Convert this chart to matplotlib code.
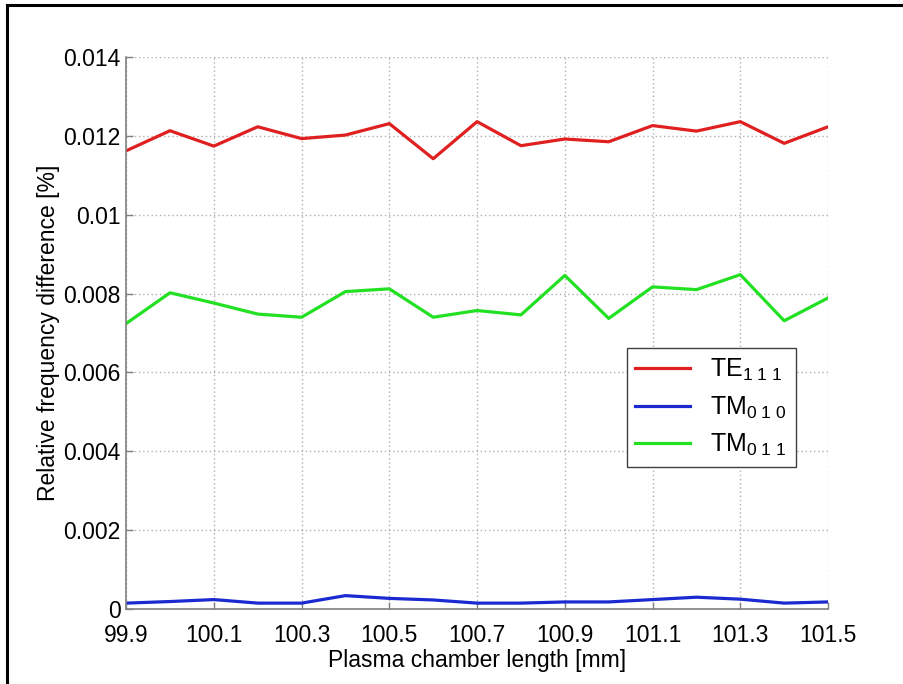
import matplotlib
matplotlib.use('Agg')
import matplotlib.pyplot as plt
from matplotlib.lines import Line2D

plt.rcParams['font.family'] = ['Liberation Sans', 'DejaVu Sans']
plt.rcParams['mathtext.fontset'] = 'custom'
plt.rcParams['mathtext.rm'] = 'Liberation Sans'
plt.rcParams['mathtext.it'] = 'Liberation Sans'

length = [99.9, 100.0, 100.1, 100.2, 100.3, 100.4, 100.5, 100.6, 100.7,
          100.8, 100.9, 101.0, 101.1, 101.2, 101.3, 101.4, 101.5]
te111 = [0.01162, 0.01213, 0.01174, 0.01223, 0.01193, 0.01202, 0.01231, 0.01142, 0.01236,
         0.01175, 0.01192, 0.01185, 0.01226, 0.01212, 0.01236, 0.01181, 0.01223]
tm010 = [0.00015, 0.00019, 0.00024, 0.00015, 0.00015, 0.00034, 0.00027, 0.00023, 0.00015,
         0.00015, 0.00018, 0.00018, 0.00024, 0.00030, 0.00025, 0.00015, 0.00018]
tm011 = [0.00724, 0.00802, 0.00776, 0.00748, 0.00740, 0.00805, 0.00812, 0.00740, 0.00757,
         0.00746, 0.00846, 0.00737, 0.00817, 0.00810, 0.00848, 0.00731, 0.00789]
labels = [r'TE$_{1\ 1\ 1}$', r'TM$_{0\ 1\ 0}$', r'TM$_{0\ 1\ 1}$']
colors = ['#e02020', '#1a2ad0', '#22e022']
xticks = [99.9, 100.1, 100.3, 100.5, 100.7, 100.9, 101.1, 101.3, 101.5]
yticks = [0, 0.002, 0.004, 0.006, 0.008, 0.01, 0.012, 0.014]
yticklabels = ['0', '0.002', '0.004', '0.006', '0.008', '0.01', '0.012', '0.014']

fig = plt.figure(figsize=(9.04, 6.84), dpi=100)
ax = fig.add_axes([0.1395, 0.1096, 0.916 - 0.1395, 0.9167 - 0.1096])

for ys, c, lab in zip([te111, tm010, tm011], colors, labels):
    ax.plot(length, ys, color=c, lw=2.3, label=lab)

ax.set_xlim(99.9, 101.5)
ax.set_ylim(0, 0.014)
ax.set_xticks(xticks)
ax.set_xticklabels([str(x) for x in xticks])
ax.set_yticks(yticks)
ax.set_yticklabels(yticklabels)
ax.tick_params(direction='in', length=5, width=1, color='#808080', labelsize=16.5, pad=4)
ax.tick_params(axis='x', pad=11)
ax.grid(True, linestyle=(0, (1, 2)), color='#b0b0b0', lw=1)
for s in ['top', 'right']:
    ax.spines[s].set_visible(False)
for s in ['left', 'bottom']:
    ax.spines[s].set_color('#808080')
    ax.spines[s].set_linewidth(1.2)

ax.set_xlabel('Plasma chamber length [mm]', fontsize=16.5, labelpad=1)
ax.set_ylabel('Relative frequency difference [%]', fontsize=16.5, labelpad=2)

leg = ax.legend(loc='upper left', bbox_to_anchor=(0.713, 0.472), fontsize=18,
                frameon=True, fancybox=False, framealpha=1, borderpad=0.35,
                labelspacing=0.45, handlelength=2.2, handletextpad=0.8, borderaxespad=0)
leg.get_frame().set_edgecolor('#404040')
leg.get_frame().set_linewidth(1)

# figure border (top and left edges)
fig.add_artist(Line2D([7 / 904, 1.0], [1 - 5 / 684, 1 - 5 / 684], color='black', lw=2.2,
                      transform=fig.transFigure))
fig.add_artist(Line2D([7 / 904, 7 / 904], [0.0, 1 - 5 / 684], color='black', lw=2.2,
                      transform=fig.transFigure))

fig.savefig('out.png', dpi=100)
